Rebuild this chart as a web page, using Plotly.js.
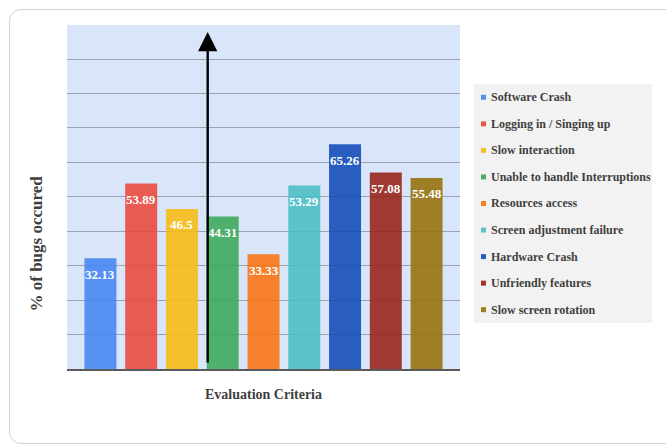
<!DOCTYPE html>
<html>
<head>
<meta charset="utf-8">
<script src="https://cdn.plot.ly/plotly-3.0.1.min.js"></script>
<style>
  html, body { margin: 0; padding: 0; background: #ffffff; overflow: hidden; }
  #frame { position: absolute; left: 9px; top: 9px; width: 680px; height: 435px;
           border: 1px solid #d2d2d2; border-radius: 12px; box-sizing: border-box; }
  #chart { position: absolute; left: 0; top: 0; width: 666px; height: 447px; }
</style>
</head>
<body>
<div id="frame"></div>
<div id="chart"></div>
<script>
// ---- data ----
const categories = [
  "Software Crash",
  "Logging in / Singing up",
  "Slow interaction",
  "Unable to handle Interruptions",
  "Resources access",
  "Screen adjustment failure",
  "Hardware Crash",
  "Unfriendly features",
  "Slow screen rotation"
];
const values = [32.13, 53.89, 46.5, 44.31, 33.33, 53.29, 65.26, 57.08, 55.48];
const colors = ["#4385f1", "#ea473b", "#f7bb10", "#39a858", "#fb720f",
                "#4abdc5", "#104bb7", "#992117", "#967108"];
const xTitle = "Evaluation Criteria";
const yTitle = "% of bugs occured";

// ---- layout geometry (pixels) ----
const W = 666, H = 447;
const M = { l: 67, r: 206, t: 25, b: 78 };
const plotW = W - M.l - M.r, plotH = H - M.t - M.b;
const px = x => (x - M.l) / plotW;           // pixel x -> paper x
const py = y => (H - M.b - y) / plotH;       // pixel y -> paper y

const serif = "Liberation Serif, Times New Roman, serif";
const BAR_OPACITY = 0.88;

const traces = categories.map((c, i) => ({
  type: "bar",
  name: c,
  x: [c],
  y: [values[i]],
  width: 0.785,
  marker: { color: colors[i], opacity: BAR_OPACITY, line: { width: 0 } },
  showlegend: false,
  hoverinfo: "x+y"
}));

const annotations = [];

// value labels, placed just inside the top of each bar
categories.forEach((c, i) => {
  annotations.push({
    xref: "x", yref: "y", x: c, y: values[i],
    xanchor: "center", yanchor: "middle", yshift: -16, showarrow: false,
    text: String(values[i]),
    font: { family: serif, size: 13, color: "#ffffff", weight: "bold" }
  });
});

// ---- hand-drawn legend (box + swatches + labels) ----
const shapes = [{
  type: "rect", xref: "paper", yref: "paper",
  x0: px(474), x1: px(652), y0: py(323), y1: py(84),
  fillcolor: "#f2f2f2", line: { width: 0 }, layer: "below"
}];
categories.forEach((c, i) => {
  const cy = 97.3 + 26.55 * i;
  shapes.push({
    type: "rect", xref: "paper", yref: "paper",
    x0: px(481), x1: px(486), y0: py(cy + 2.5), y1: py(cy - 2.5),
    fillcolor: colors[i], opacity: 0.9, line: { width: 0 }
  });
  annotations.push({
    xref: "paper", yref: "paper", x: px(489), y: py(cy),
    xanchor: "left", yanchor: "middle", showarrow: false,
    text: c, font: { family: serif, size: 12, color: "#3f3f3f", weight: "bold" }
  });
});

// y-axis title
annotations.push({
  xref: "paper", yref: "paper", x: px(36), y: py(243.5),
  xanchor: "center", yanchor: "middle", showarrow: false, textangle: -90,
  text: yTitle, font: { family: serif, size: 17, color: "#3f3f3f", weight: "bold" }
});

// black arrow
annotations.push({
  xref: "paper", yref: "paper", x: px(207.7), y: py(32),
  axref: "pixel", ayref: "pixel", ax: 0, ay: 332,
  showarrow: true, text: "", arrowhead: 2, arrowsize: 1.6, arrowwidth: 2.4,
  arrowcolor: "#000000", standoff: 0
});

const layout = {
  width: W, height: H,
  margin: M,
  paper_bgcolor: "rgba(0,0,0,0)",
  plot_bgcolor: "#d9e6f9",
  barmode: "overlay",
  showlegend: false,
  xaxis: {
    type: "category",
    categoryorder: "array", categoryarray: categories,
    range: [-0.82, 8.82],
    showticklabels: false, ticks: "", showgrid: false, zeroline: false,
    showline: true, linecolor: "#5a5a5a", linewidth: 2,
    title: { text: xTitle, standoff: 19,
             font: { family: serif, size: 14, color: "#3f3f3f", weight: "bold" } }
  },
  yaxis: {
    range: [0, 99.9], dtick: 10, tick0: 0,
    showticklabels: false, ticks: "",
    showgrid: true, gridcolor: "#98a2b2", gridwidth: 1,
    zeroline: false, showline: false
  },
  shapes: shapes,
  annotations: annotations
};

Plotly.newPlot("chart", traces, layout, { displayModeBar: false, staticPlot: true });
</script>
</body>
</html>
